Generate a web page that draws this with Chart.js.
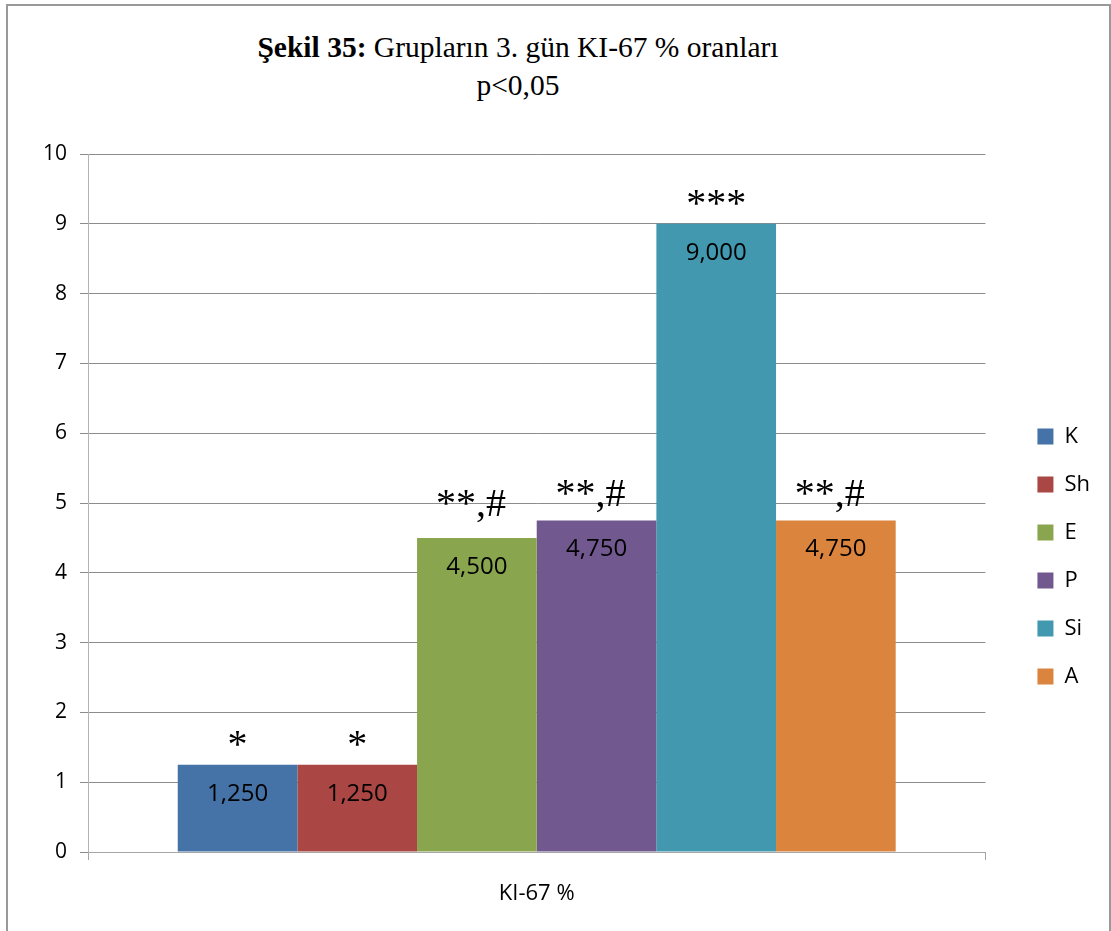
<!DOCTYPE html>
<html>
<head>
<meta charset="utf-8">
<script src="https://cdn.jsdelivr.net/npm/chart.js@4.4.1/dist/chart.umd.min.js"></script>
<style>
    body { margin: 0; background: #fff; }
    #frame { position: absolute; left: 6px; top: 4px; width: 1101px; height: 1000px; border: 2px solid #999; }
    .title { position: absolute; left: 0; width: 1036px; text-align: center; font-family: "Liberation Serif", serif; font-size: 29.5px; line-height: 38px; color: #000; }
    #chartCanvas { position: absolute; left: 0; top: 0; }
</style>
</head>
<body>
<div id="frame"></div>
<div class="title" style="top: 28px;"><b>Şekil 35:</b> Grupların 3. gün KI-67 % oranları</div>
<div class="title" style="top: 66px;">p&lt;0,05</div>
<canvas id="chartCanvas" width="1111" height="931"></canvas>
<script>
const categories = ['KI-67 %'];
const groups = ['K', 'Sh', 'E', 'P', 'Si', 'A'];
const ki67Values = [1.25, 1.25, 4.5, 4.75, 9, 4.75];
const signifMarks = ['*', '*', '**,#', '**,#', '***', '**,#'];
const groupColors = ['#4572A7', '#AA4643', '#89A54E', '#71588F', '#4198AF', '#DB843D'];

Chart.defaults.font.family = 'Open Sans';
Chart.defaults.color = '#000';

// value labels inside the bars + significance marks above them
const barLabels = {
    id: 'barLabels',
    afterDatasetsDraw(chart, args, opts) {
        const ctx = chart.ctx;
        ctx.save();
        ctx.textAlign = 'center';
        ctx.textBaseline = 'alphabetic';
        ctx.fillStyle = '#000';
        chart.data.datasets.forEach((ds, i) => {
            const bar = chart.getDatasetMeta(i).data[0];
            ctx.font = '24px "Open Sans"';
            ctx.fillText(ds.data[0].toFixed(3).replace('.', ','), bar.x, bar.y + 36);
            ctx.font = '40px "Liberation Serif"';
            ctx.fillText(signifMarks[i], bar.x - (signifMarks[i].includes('#') ? 6 : 0), bar.y - opts.lift[i]);
        });
        ctx.restore();
    }
};

// push the legend a bit right and down, like the original
const legendShift = {
    id: 'legendShift',
    afterLayout(chart) {
        const lg = chart.legend;
        lg.left += 26; lg.right += 26;
        lg.top += 14; lg.bottom += 14;
    }
};

new Chart(document.getElementById('chartCanvas').getContext('2d'), {
    type: 'bar',
    data: {
        labels: categories,
        datasets: groups.map((g, i) => ({
            label: g,
            data: [ki67Values[i]],
            backgroundColor: groupColors[i],
            categoryPercentage: 0.8,
            barPercentage: 1.0
        }))
    },
    options: {
        responsive: false,
        animation: false,
        layout: { padding: { top: 154, left: 8, right: 37, bottom: 0 } },
        plugins: {
            title: { display: false },
            tooltip: { enabled: false },
            legend: {
                position: 'right',
                labels: { boxWidth: 16, boxHeight: 16, padding: 26, font: { size: 22 }, color: '#000' }
            },
            barLabels: { lift: [8, 8, 22, 14, 8, 14] }
        },
        scales: {
            x: {
                grid: { display: true, drawOnChartArea: false, tickLength: 8, color: '#a6a6a6' },
                border: { color: '#a6a6a6' },
                ticks: { font: { size: 22 }, padding: 21 },
                afterFit(scale) { scale.height = 79; }
            },
            y: {
                min: 0,
                max: 10,
                ticks: { stepSize: 1, font: { size: 21 }, padding: 13 },
                grid: { color: '#8c8c8c', tickLength: 8 },
                border: { color: '#b3b3b3' },
                afterFit(scale) { scale.width = 80; }
            }
        }
    },
    plugins: [barLabels, legendShift]
});
</script>
</body>
</html>
